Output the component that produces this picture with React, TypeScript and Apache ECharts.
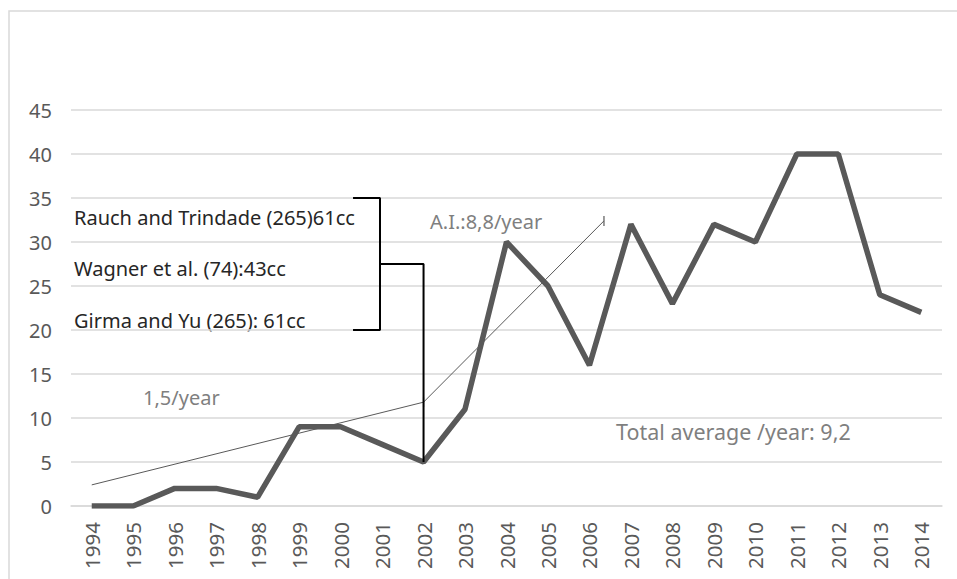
import React, { useEffect, useRef } from "react";
import * as echarts from "echarts";

const years = ["1994","1995","1996","1997","1998","1999","2000","2001","2002","2003","2004","2005","2006","2007","2008","2009","2010","2011","2012","2013","2014"];
const publications = [0, 0, 2, 2, 1, 9, 9, 7, 5, 11, 30, 25, 16, 32, 23, 32, 30, 40, 40, 24, 22];
// trend lines: [category index, value]
const trendEarly = [[0, 2.4], [8, 11.8]];
const trendLate = [[8, 11.8], [12.35, 32.4]];
// bracket annotation in data coordinates
const bracketOuter = [[6.3, 35], [6.95, 35], [6.95, 20], [6.3, 20]];
const bracketLink = [[6.95, 27.5], [8, 27.5], [8, 5]];
const yTicks = { min: 0, max: 45, interval: 5 };

const FONT = "'Noto Sans', 'Open Sans', sans-serif";

export default function App() {
  const ref = useRef<HTMLDivElement>(null);
  useEffect(() => {
    document.body.style.margin = "0";
    const chart = echarts.init(ref.current!, null, { renderer: "svg" });
    const capItem = (p: number[]) => ({ value: p, symbol: "rect", symbolSize: [1.2, 10] });
    chart.setOption({
      animation: false,
      backgroundColor: "#ffffff",
      textStyle: { fontFamily: FONT },
      grid: { left: 71, right: 15, top: 110, bottom: 73, containLabel: false, outerBoundsMode: "none" },
      xAxis: [
        {
          type: "category",
          data: years,
          boundaryGap: true,
          axisLine: { show: true, lineStyle: { color: "#d9d9d9", width: 1.5 } },
          axisTick: { show: false },
          axisLabel: { rotate: 90, interval: 0, fontSize: 20.5, color: "#595959", margin: 16, fontFamily: FONT },
          splitLine: { show: false },
        },
        { type: "value", min: -0.5, max: 20.5, show: false },
      ],
      yAxis: {
        type: "value",
        min: yTicks.min,
        max: yTicks.max,
        interval: yTicks.interval,
        axisLine: { show: false },
        axisTick: { show: false },
        axisLabel: { fontSize: 20, color: "#595959", margin: 19, fontFamily: FONT },
        splitLine: { lineStyle: { color: "#d9d9d9", width: 1.5 } },
      },
      series: [
        {
          type: "line",
          xAxisIndex: 1,
          data: [trendEarly[0], capItem(trendEarly[1])],
          symbol: "none",
          showSymbol: true,
          lineStyle: { color: "#595959", width: 1 },
          itemStyle: { color: "#595959" },
          z: 3,
        },
        {
          type: "line",
          xAxisIndex: 1,
          data: [trendLate[0], capItem(trendLate[1])],
          symbol: "none",
          showSymbol: true,
          lineStyle: { color: "#595959", width: 1 },
          itemStyle: { color: "#595959" },
          z: 3,
        },
        {
          type: "line",
          xAxisIndex: 0,
          data: publications,
          symbol: "none",
          lineStyle: { color: "#595959", width: 5.5 },
          z: 4,
        },
        {
          type: "line",
          xAxisIndex: 1,
          data: bracketOuter,
          symbol: "none",
          lineStyle: { color: "#000000", width: 2 },
          z: 5,
        },
        {
          type: "line",
          xAxisIndex: 1,
          data: bracketLink,
          symbol: "none",
          lineStyle: { color: "#000000", width: 2 },
          z: 5,
        },
      ],
      graphic: [
        {
          type: "rect",
          shape: { x: 9, y: 11, width: 1000, height: 600 },
          style: { fill: "none", stroke: "#d9d9d9", lineWidth: 1.5 },
          silent: true,
        },
        { type: "text", x: 74, y: 217, style: { text: "Rauch and Trindade (265)61cc", fill: "#262626", font: `20px ${FONT}`, textVerticalAlign: "middle" } },
        { type: "text", x: 74, y: 268, style: { text: "Wagner et al. (74):43cc", fill: "#262626", font: `20px ${FONT}`, textVerticalAlign: "middle" } },
        { type: "text", x: 74, y: 320, style: { text: "Girma and Yu (265): 61cc", fill: "#262626", font: `20px ${FONT}`, textVerticalAlign: "middle" } },
        { type: "text", x: 430, y: 221, style: { text: "A.I.:8,8/year", fill: "#7f7f7f", font: `20px ${FONT}`, textVerticalAlign: "middle" } },
        { type: "text", x: 143, y: 397, style: { text: "1,5/year", fill: "#7f7f7f", font: `20px ${FONT}`, textVerticalAlign: "middle" } },
        { type: "text", x: 616, y: 431, style: { text: "Total average /year: 9,2", fill: "#7f7f7f", font: `21.5px ${FONT}`, textVerticalAlign: "middle" } },
      ],
    });
    return () => chart.dispose();
  }, []);
  return <div ref={ref} style={{ width: 957, height: 579 }} />;
}
